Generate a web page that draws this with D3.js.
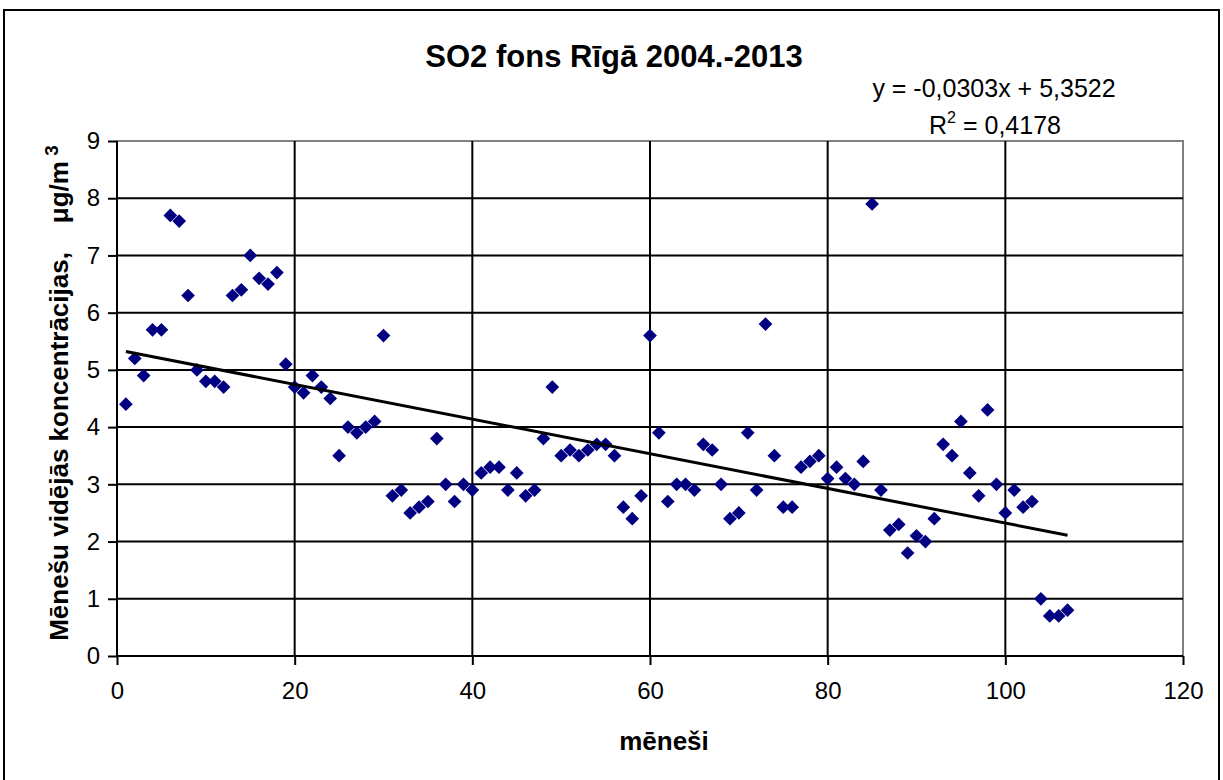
<!DOCTYPE html>
<html><head><meta charset="utf-8">
<script src="https://cdn.jsdelivr.net/npm/d3@7"></script>
<style>body{margin:0;background:#fff}svg{display:block}text{font-family:"Liberation Sans",Arial,sans-serif}</style>
</head><body>
<svg id="c" width="1223" height="780"></svg>
<script>
const months = d3.range(1, 108);
const values = [4.4,5.2,4.9,5.7,5.7,7.7,7.6,6.3,5.0,4.8,
4.8,4.7,6.3,6.4,7.0,6.6,6.5,6.7,5.1,4.7,
4.6,4.9,4.7,4.5,3.5,4.0,3.9,4.0,4.1,5.6,
2.8,2.9,2.5,2.6,2.7,3.8,3.0,2.7,3.0,2.9,
3.2,3.3,3.3,2.9,3.2,2.8,2.9,3.8,4.7,3.5,
3.6,3.5,3.6,3.7,3.7,3.5,2.6,2.4,2.8,5.6,
3.9,2.7,3.0,3.0,2.9,3.7,3.6,3.0,2.4,2.5,
3.9,2.9,5.8,3.5,2.6,2.6,3.3,3.4,3.5,3.1,
3.3,3.1,3.0,3.4,7.9,2.9,2.2,2.3,1.8,2.1,
2.0,2.4,3.7,3.5,4.1,3.2,2.8,4.3,3.0,2.5,
2.9,2.6,2.7,1.0,0.7,0.7,0.8];
const xTicks = [0,20,40,60,80,100,120];
const yTicks = [0,1,2,3,4,5,6,7,8,9];
const trendSlope = -0.0303, trendIntercept = 5.3522;
const titleText = "SO2 fons Rīgā 2004.-2013";
const xTitle = "mēneši";

const svg = d3.select("#c");
const L=117, T=141, R=1183, B=656;
const x = d3.scaleLinear().domain([0,120]).range([L,R]);
const y = d3.scaleLinear().domain([0,9]).range([B,T]);

// outer frame
svg.append("rect").attr("x",4).attr("y",10).attr("width",1215).attr("height",800)
  .attr("fill","none").attr("stroke","#000").attr("stroke-width",2);

// plot area border (gray)
svg.append("rect").attr("x",L).attr("y",T).attr("width",R-L).attr("height",B-T)
  .attr("fill","#fff").attr("stroke","#808080").attr("stroke-width",2);

// gridlines
svg.append("g").selectAll("line").data(yTicks.filter(d=>d>0&&d<9)).join("line")
  .attr("x1",L).attr("x2",R).attr("y1",d=>y(d)).attr("y2",d=>y(d))
  .attr("stroke","#000").attr("stroke-width",2);
svg.append("g").selectAll("line").data(xTicks.filter(d=>d>0&&d<120)).join("line")
  .attr("x1",d=>x(d)).attr("x2",d=>x(d)).attr("y1",T).attr("y2",B)
  .attr("stroke","#000").attr("stroke-width",2);

// axes
const yAxis = svg.append("g").attr("transform",`translate(${L},0)`)
  .call(d3.axisLeft(y).tickValues(yTicks).tickSize(9).tickPadding(8).tickFormat(d3.format("d")));
const xAxis = svg.append("g").attr("transform",`translate(0,${B})`)
  .call(d3.axisBottom(x).tickValues(xTicks).tickSize(9).tickPadding(17).tickFormat(d3.format("d")));
[yAxis,xAxis].forEach(a=>{
  a.attr("font-size",null).attr("font-family",null);
  a.select(".domain").attr("stroke","#000").attr("stroke-width",2);
  a.selectAll(".tick line").attr("stroke","#000").attr("stroke-width",2);
  a.selectAll("text").style("font-size","24px").attr("fill","#000");
});
yAxis.select(".domain").attr("d",`M0,${B}V${T}`);
xAxis.select(".domain").attr("d",`M${L},0H${R}`);

// points
const diamond = d3.symbol().type(d3.symbolDiamond2).size(120);
svg.append("g").selectAll("path").data(months.map((m,i)=>[m,values[i]])).join("path")
  .attr("d",diamond).attr("transform",d=>`translate(${x(d[0])},${y(d[1])})`)
  .attr("fill","#000080");

// trendline
svg.append("line").attr("x1",x(1)).attr("y1",y(trendSlope*1+trendIntercept))
  .attr("x2",x(107)).attr("y2",y(trendSlope*107+trendIntercept))
  .attr("stroke","#000").attr("stroke-width",3);

// title
svg.append("text").attr("x",614).attr("y",67).attr("text-anchor","middle")
  .style("font-size","31px").attr("font-weight","bold").text(titleText);
// equation
svg.append("text").attr("x",994).attr("y",97).attr("text-anchor","middle")
  .style("font-size","25px").text("y = -0,0303x + 5,3522");
const r2 = svg.append("text").attr("x",995).attr("y",134).attr("text-anchor","middle").style("font-size","25px");
r2.append("tspan").text("R");
r2.append("tspan").style("font-size","16px").attr("dy",-11).text("2");
r2.append("tspan").attr("dy",11).text(" = 0,4178");

// x title
svg.append("text").attr("x",664).attr("y",750).attr("text-anchor","middle")
  .style("font-size","26px").attr("font-weight","bold").text(xTitle);
// y title
const yt = svg.append("text").attr("transform","translate(68,393) rotate(-90)")
  .attr("text-anchor","middle").style("font-size","26px").style("white-space","pre").attr("font-weight","bold");
yt.append("tspan").text("Mēnešu vidējās koncentrācijas,    μg/m");
yt.append("tspan").style("font-size","19px").attr("dy",-10).text(" 3");
</script>
</body></html>
